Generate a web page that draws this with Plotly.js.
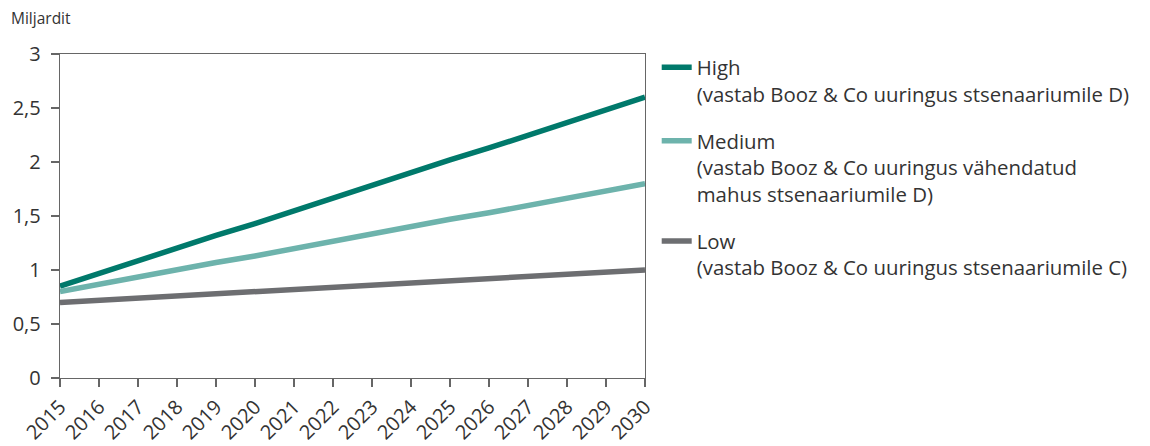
<!DOCTYPE html>
<html>
<head>
<meta charset="utf-8">
<script src="https://cdn.plot.ly/plotly-3.0.1.min.js"></script>
<style>html,body{margin:0;padding:0;background:#fff;}#chart{width:1150px;height:446px;}</style>
</head>
<body>
<div id="chart"></div>
<script>
const years = ['2015','2016','2017','2018','2019','2020','2021','2022','2023','2024','2025','2026','2027','2028','2029','2030'];
const high = [0.85,0.97,1.08,1.20,1.32,1.43,1.55,1.67,1.78,1.90,2.02,2.13,2.25,2.37,2.48,2.60];
const medium = [0.80,0.87,0.93,1.00,1.07,1.13,1.20,1.27,1.33,1.40,1.47,1.53,1.60,1.67,1.73,1.80];
const low = [0.70,0.72,0.74,0.76,0.78,0.80,0.82,0.84,0.86,0.88,0.90,0.92,0.94,0.96,0.98,1.00];
const seriesNames = [
  'High<br>(vastab Booz &amp; Co uuringus stsenaariumile D)',
  'Medium<br>(vastab Booz &amp; Co uuringus vähendatud<br>mahus stsenaariumile D)',
  'Low<br>(vastab Booz &amp; Co uuringus stsenaariumile C)'
];
const yTickVals = [0,0.5,1,1.5,2,2.5,3];
const yTickText = ['0','0,5','1','1,5','2','2,5','3'];
const colors = ['#00796b','#6db3ac','#6d6e71'];
const font = 'Open Sans, Noto Sans, sans-serif';

const traces = [high, medium, low].map((v, i) => ({
  x: years, y: v, name: seriesNames[i], legendgroup: 'g' + i, type: 'scatter', mode: 'lines',
  line: {color: colors[i], width: 5.5}
}));

const layout = {
  width: 1150, height: 446,
  margin: {l: 60, r: 505, t: 54, b: 68},
  paper_bgcolor: '#fff', plot_bgcolor: '#fff',
  font: {family: font, color: '#333', size: 20},
  showlegend: true,
  legend: {
    x: 1.02, xanchor: 'left', y: 1.02, yanchor: 'top',
    valign: 'top', tracegroupgap: 17.5, maxheight: 420,
    font: {family: font, size: 20.4, color: '#333'},
    bgcolor: 'rgba(0,0,0,0)', itemwidth: 30
  },
  xaxis: {
    type: 'category', tickmode: 'array', tickvals: years, ticktext: years,
    range: [0, 15], showline: true, linecolor: '#666', linewidth: 1.3, mirror: true,
    ticks: 'outside', ticklen: 8, tickcolor: '#666', tickwidth: 1.3,
    tickangle: -45, showgrid: false, zeroline: false,
    tickfont: {family: font, size: 20, color: '#333'}
  },
  yaxis: {
    range: [0, 3], tickmode: 'array', tickvals: yTickVals, ticktext: yTickText,
    showline: true, linecolor: '#666', linewidth: 1.3, mirror: true,
    ticks: 'outside', ticklen: 8, tickcolor: '#666', tickwidth: 1.3,
    showgrid: false, zeroline: false, ticklabelstandoff: 6,
    tickfont: {family: font, size: 20, color: '#333'}
  },
  annotations: [{
    text: 'Miljardit', xref: 'paper', yref: 'paper', x: 0, y: 1, xshift: -51, yshift: 36,
    xanchor: 'left', yanchor: 'middle', showarrow: false,
    font: {family: font, size: 15.5, color: '#333'}
  }]
};

Plotly.newPlot('chart', traces, layout, {displayModeBar: false, staticPlot: true});
</script>
</body>
</html>
